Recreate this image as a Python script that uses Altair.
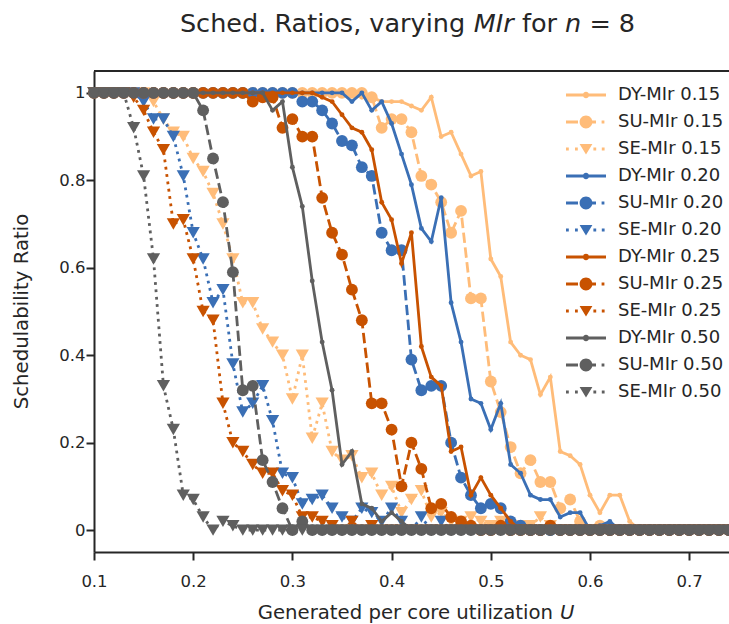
import altair as alt
import pandas as pd

# x grid: one point every 0.01 from 0.10 to 0.74
x_vals = [round(0.10 + 0.01 * i, 2) for i in range(65)]

dy_015 = [1, 1, 1, 1, 1, 1, 1, 1, 1, 1,
          1, 1, 1, 1, 1, 1, 1, 1, 1, 1,
          1, 1, 1, 1, 1, 1, 1, 0.99, 0.99, 0.98,
          0.98, 0.98, 0.97, 0.96, 0.99, 0.90, 0.91, 0.86, 0.81, 0.82,
          0.62, 0.58, 0.43, 0.40, 0.39, 0.31, 0.35, 0.18, 0.17, 0.15,
          0.08, 0.04, 0.08, 0.08, 0.02, 0, 0, 0, 0, 0,
          0, 0, 0, 0, 0]
su_015 = [1, 1, 1, 1, 1, 1, 1, 1, 1, 1,
          1, 1, 1, 1, 1, 1, 1, 1, 1, 1,
          1, 1, 1, 1, 1, 1, 1, 1, 0.99, 0.92,
          0.94, 0.94, 0.91, 0.81, 0.79, 0.75, 0.68, 0.73, 0.53, 0.53,
          0.34, 0.27, 0.19, 0.13, 0.16, 0.11, 0.11, 0.05, 0.07, 0.02,
          0, 0.01, 0, 0, 0, 0, 0, 0, 0, 0,
          0, 0, 0, 0, 0]
se_015 = [1, 1, 1, 1, 1, 1, 0.98, 0.94, 0.91, 0.90,
          0.85, 0.82, 0.77, 0.70, 0.62, 0.52, 0.52, 0.46, 0.43, 0.40,
          0.30, 0.40, 0.21, 0.29, 0.18, 0.16, 0.17, 0.12, 0.13, 0.08,
          0.10, 0.04, 0.07, 0.09, 0.03, 0.04, 0.02, 0.02, 0.03, 0.02,
          0.01, 0.02, 0, 0.01, 0.01, 0.03, 0.01, 0, 0, 0,
          0, 0, 0, 0, 0, 0, 0, 0, 0, 0,
          0, 0, 0, 0, 0]
dy_020 = [1, 1, 1, 1, 1, 1, 1, 1, 1, 1,
          1, 1, 1, 1, 1, 1, 1, 1, 1, 1,
          1, 1, 1, 1, 1, 1, 0.98, 1, 0.96, 0.98,
          0.93, 0.86, 0.79, 0.69, 0.66, 0.76, 0.52, 0.43, 0.30, 0.29,
          0.23, 0.29, 0.15, 0.13, 0.08, 0.07, 0.07, 0.03, 0.04, 0.04,
          0, 0.01, 0.02, 0, 0, 0, 0, 0, 0, 0,
          0, 0, 0, 0, 0]
su_020 = [1, 1, 1, 1, 1, 1, 1, 1, 1, 1,
          1, 1, 1, 1, 1, 1, 1, 1, 1, 1,
          1, 0.98, 0.98, 0.96, 0.93, 0.89, 0.88, 0.83, 0.81, 0.68,
          0.64, 0.64, 0.39, 0.32, 0.33, 0.33, 0.20, 0.12, 0.08, 0.05,
          0.06, 0.05, 0.02, 0.01, 0, 0, 0, 0, 0, 0,
          0, 0, 0, 0, 0, 0, 0, 0, 0, 0,
          0, 0, 0, 0, 0]
se_020 = [1, 1, 1, 1, 1, 0.98, 0.94, 0.94, 0.90, 0.81,
          0.68, 0.62, 0.52, 0.55, 0.38, 0.27, 0.29, 0.33, 0.25, 0.13,
          0.12, 0.06, 0.07, 0.08, 0.05, 0.03, 0.02, 0.05, 0.04, 0.02,
          0.05, 0.02, 0, 0.03, 0, 0.02, 0, 0, 0, 0,
          0, 0, 0, 0, 0, 0, 0, 0, 0, 0,
          0, 0, 0, 0, 0, 0, 0, 0, 0, 0,
          0, 0, 0, 0, 0]
dy_025 = [1, 1, 1, 1, 1, 1, 1, 1, 1, 1,
          1, 1, 1, 1, 1, 1, 1, 1, 1, 1,
          1, 1, 1, 0.99, 0.98, 0.95, 0.92, 0.91, 0.87, 0.75,
          0.71, 0.61, 0.68, 0.42, 0.35, 0.33, 0.18, 0.19, 0.08, 0.12,
          0.08, 0.05, 0.02, 0, 0, 0, 0, 0, 0, 0,
          0, 0, 0, 0, 0, 0, 0, 0, 0, 0,
          0, 0, 0, 0, 0]
su_025 = [1, 1, 1, 1, 1, 1, 1, 1, 1, 1,
          1, 1, 1, 1, 1, 1, 0.98, 0.99, 0.99, 0.92,
          0.94, 0.90, 0.90, 0.76, 0.68, 0.63, 0.55, 0.48, 0.29, 0.29,
          0.23, 0.10, 0.20, 0.14, 0.05, 0.06, 0.03, 0.02, 0.01, 0,
          0, 0.01, 0, 0, 0, 0, 0.01, 0, 0, 0,
          0, 0, 0, 0, 0, 0, 0, 0, 0, 0,
          0, 0, 0, 0, 0]
se_025 = [1, 1, 1, 1, 0.99, 0.96, 0.91, 0.87, 0.70, 0.71,
          0.62, 0.50, 0.48, 0.29, 0.20, 0.18, 0.15, 0.13, 0.13, 0.09,
          0.08, 0.03, 0.03, 0.02, 0.01, 0, 0.02, 0, 0.01, 0,
          0, 0, 0, 0, 0, 0, 0, 0, 0, 0,
          0, 0, 0, 0, 0, 0, 0, 0, 0, 0,
          0, 0, 0, 0, 0, 0, 0, 0, 0, 0,
          0, 0, 0, 0, 0]
dy_050 = [1, 1, 1, 1, 1, 1, 1, 1, 1, 1,
          1, 1, 1, 1, 1, 1, 1, 1, 0.96, 0.98,
          0.83, 0.74, 0.57, 0.43, 0.32, 0.15, 0.18, 0.06, 0.05, 0.02,
          0.04, 0.02, 0, 0, 0, 0, 0, 0, 0, 0,
          0, 0, 0, 0, 0, 0, 0, 0, 0, 0,
          0, 0, 0, 0, 0, 0, 0, 0, 0, 0,
          0, 0, 0, 0, 0]
su_050 = [1, 1, 1, 1, 1, 1, 1, 1, 1, 1,
          1, 0.96, 0.85, 0.75, 0.59, 0.32, 0.33, 0.16, 0.11, 0.05,
          0, 0.02, 0, 0, 0, 0, 0, 0, 0, 0,
          0, 0, 0, 0, 0, 0, 0, 0, 0, 0,
          0, 0, 0, 0, 0, 0, 0, 0, 0, 0,
          0, 0, 0, 0, 0, 0, 0, 0, 0, 0,
          0, 0, 0, 0, 0]
se_050 = [1, 1, 1, 1, 0.92, 0.81, 0.62, 0.33, 0.23, 0.08,
          0.07, 0.03, 0, 0.02, 0.01, 0, 0, 0, 0, 0,
          0, 0, 0, 0, 0, 0, 0, 0, 0, 0,
          0, 0, 0, 0, 0, 0, 0, 0, 0, 0,
          0, 0, 0, 0, 0, 0, 0, 0, 0, 0,
          0, 0, 0, 0, 0, 0, 0, 0, 0, 0,
          0, 0, 0, 0, 0]

mir_levels = ["0.15", "0.20", "0.25", "0.50"]
mir_colors = ["#FFBC79", "#3A6FB5", "#C85200", "#5F5F5F"]
kinds = ["DY", "SU", "SE"]
series_values = [dy_015, su_015, se_015, dy_020, su_020, se_020,
                 dy_025, su_025, se_025, dy_050, su_050, se_050]

names, colors, kind_of = [], [], []
for m, c in zip(mir_levels, mir_colors):
    for k in kinds:
        names.append(f"{k}-MIr {m}")
        colors.append(c)
        kind_of.append(k)

rows = []
for name, vals in zip(names, series_values):
    for xv, yv in zip(x_vals, vals):
        rows.append({"series": name, "x": xv, "y": yv})
df = pd.DataFrame(rows)
one = pd.DataFrame({"a": [0]})

W, H = 635, 481
PX_PER_UNIT = 992.0
INK = "#262626"
FONT = "DejaVu Sans"

xscale = alt.Scale(domain=[0.1, 0.1 + W / PX_PER_UNIT], nice=False, zero=False)
yscale = alt.Scale(domain=[-0.05, 1.05], nice=False, zero=False)
xaxis = alt.Axis(values=[0.1, 0.2, 0.3, 0.4, 0.5, 0.6, 0.7], format=".1f",
                 title=None, grid=False, labelFlush=False, labelPadding=13)
yaxis = alt.Axis(values=[0, 0.2, 0.4, 0.6, 0.8, 1.0], format="~g",
                 title=None, grid=False, labelFlush=False, labelPadding=1)
X = alt.X("x:Q", scale=xscale, axis=xaxis)
Y = alt.Y("y:Q", scale=yscale, axis=yaxis)

LW = 2.8
style = {
    "DY": dict(dash=None, shape="circle", size=24),
    "SU": dict(dash=[10.4, 4.5], shape="circle", size=140),
    "SE": dict(dash=[2.8, 4.6], shape="triangle-down", size=175),
}

layers = []
base = alt.Chart(df)
for name, c, k in zip(names, colors, kind_of):
    st = style[k]
    sub = base.transform_filter(alt.datum.series == name)
    line_kw = dict(color=c, strokeWidth=LW)
    if st["dash"]:
        line_kw["strokeDash"] = st["dash"]
    layers.append(sub.mark_line(**line_kw).encode(x=X, y=Y))
    layers.append(sub.mark_point(filled=True, shape=st["shape"], size=st["size"],
                                 color=c, opacity=1, strokeWidth=0).encode(x=X, y=Y))

# top frame line
layers.append(alt.Chart(one).mark_rule(color=INK, strokeWidth=2).encode(
    x=alt.value(0), x2=alt.value(W), y=alt.value(0)))

# legend (symbols drawn as line+marker glyph paths, 40 px wide)
SYM = 36.0                 # sqrt(symbolSize): sets the legend row pitch
K = 40.0 / SYM             # path units so the glyph spans 40 px

def f(v):
    return round(v * K, 4)

def rect(x0, x1, h=0.07):
    return f"M{f(x0)},{f(-h)}H{f(x1)}V{f(h)}H{f(x0)}Z"

def circ(r):
    return f"M{f(-r)},0A{f(r)},{f(r)} 0 1,1 {f(r)},0A{f(r)},{f(r)} 0 1,1 {f(-r)},0Z"

tri = f"M{f(-0.32)},{f(-0.25)}H{f(0.32)}L0,{f(0.28)}Z"
legend_paths = {
    "DY": rect(-1, 1) + " " + circ(0.16),
    "SU": " ".join([rect(-1, -0.4), circ(0.32), rect(0.3, 0.5), rect(0.78, 0.92)]),
    "SE": " ".join([rect(-1, -0.86), rect(-0.55, -0.41), tri, rect(0.37, 0.51), rect(0.79, 0.93)]),
}
shape_range = [legend_paths[k] for k in kind_of]

leg = alt.Legend(title=None, orient="none", legendX=586 - 94 - SYM / 2,
                 legendY=95 - 71 - SYM / 2, padding=0,
                 symbolSize=SYM * SYM, symbolStrokeWidth=0, symbolOpacity=1,
                 labelFont=FONT, labelFontSize=18, labelColor=INK,
                 labelOffset=618 - (586 - SYM / 2) - SYM, rowPadding=0,
                 direction="vertical", columns=1)
layers.append(
    alt.Chart(df).transform_filter("false").mark_point(filled=True, opacity=1).encode(
        color=alt.Color("series:N", scale=alt.Scale(domain=names, range=colors), legend=leg),
        shape=alt.Shape("series:N", scale=alt.Scale(domain=names, range=shape_range), legend=leg),
    )
)

# text with italic parts (title and axis titles)
EM = {" ": .318, ",": .318, "-": .361, ".": .318, "=": .838, "8": .636,
      "G": .775, "I": .295, "M": .863, "R": .695, "S": .635, "U": .732,
      "a": .613, "b": .635, "c": .550, "d": .635, "e": .615, "f": .352,
      "g": .635, "h": .634, "i": .278, "l": .278, "n": .634, "o": .612,
      "p": .635, "r": .411, "s": .521, "t": .392, "u": .634, "v": .592,
      "y": .592, "z": .525}

def text_width(s, size):
    return sum(EM.get(ch, 0.6) for ch in s) * size

def rich_text(parts, size, center_x, baseline_y):
    total = sum(text_width(t, size) for t, _ in parts)
    x = center_x - total / 2
    out = []
    for t, italic in parts:
        lead = len(t) - len(t.lstrip(" "))
        xs = x + text_width(t[:lead], size)
        out.append(alt.Chart(one).mark_text(
            align="left", baseline="alphabetic", font=FONT, fontSize=size,
            fontStyle="italic" if italic else "normal", color=INK
        ).encode(x=alt.value(xs), y=alt.value(baseline_y), text=alt.value(t.strip(" "))))
        x += text_width(t, size)
    return out

LEFT = 94
TOP = 71
title_parts = [("Sched. Ratios, varying ", False), ("MIr", True), (" for ", False),
               ("n", True), (" = 8", False)]
layers += rich_text(title_parts, 25.5, 407.5 - LEFT, 32 - TOP)
xlab_parts = [("Generated per core utilization ", False), ("U", True)]
layers += rich_text(xlab_parts, 19.7, 416 - LEFT, 619 - TOP)
layers.append(alt.Chart(one).mark_text(
    align="center", baseline="alphabetic", font=FONT, fontSize=19.7, angle=270, color=INK
).encode(x=alt.value(28 - LEFT), y=alt.value(H / 2), text=alt.value("Schedulability Ratio")))

chart = alt.layer(*layers).properties(
    width=W, height=H,
    autosize=alt.AutoSizeParams(type="none"),
    padding={"left": LEFT, "top": TOP, "right": 0, "bottom": 624 - TOP - H},
    background="white",
).configure_view(stroke=None).configure_axis(
    labelFont=FONT, labelFontSize=16.5, labelColor=INK,
    domainColor=INK, domainWidth=2, tickColor=INK, tickWidth=2,
    tickSize=8,
)

chart.save("out.html", embed_options={"renderer": "svg", "actions": False})
